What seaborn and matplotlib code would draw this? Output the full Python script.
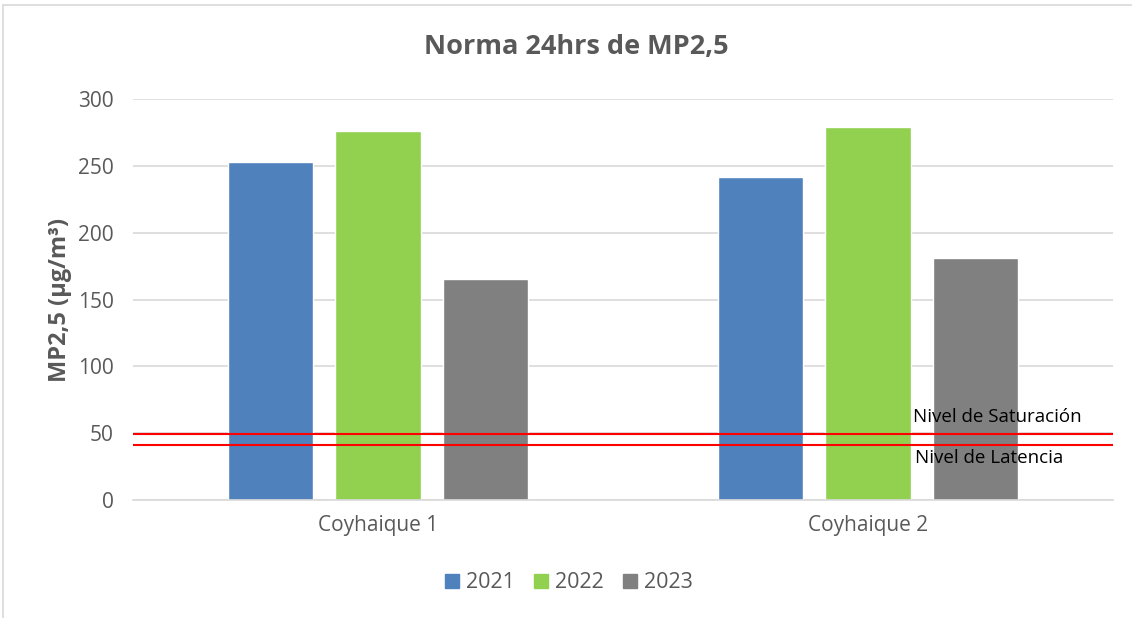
import pandas as pd
import matplotlib.pyplot as plt
import matplotlib.lines as mlines
import seaborn as sns

# data
STATIONS = ["Coyhaique 1", "Coyhaique 2"]
YEARS = ["2021", "2022", "2023"]
VALUES_2021 = [253, 242]
VALUES_2022 = [276, 279]
VALUES_2023 = [165, 181]
LEVEL_NAMES = ["Nivel de Saturación", "Nivel de Latencia"]
LEVEL_VALUES = [49.5, 41]
Y_TICKS = [0, 50, 100, 150, 200, 250, 300]

COLORS = {"2021": "#4F81BD", "2022": "#92D050", "2023": "#808080"}
TEXT_GRAY = "#595959"
GRID_GRAY = "#D9D9D9"

sns.set_theme(style="white")
plt.rcParams["font.family"] = ["Open Sans", "DejaVu Sans"]

rows = []
for year, vals in zip(YEARS, [VALUES_2021, VALUES_2022, VALUES_2023]):
    for st, v in zip(STATIONS, vals):
        rows.append({"station": st, "year": year, "value": v})
df = pd.DataFrame(rows)

fig = plt.figure(figsize=(11.32, 6.18), dpi=100)
ax = fig.add_axes([133 / 1132, 1 - 500 / 618, 980 / 1132, 401 / 618])

sns.barplot(data=df, x="station", y="value", hue="year", palette=COLORS,
            width=0.66, gap=0.21, saturation=1, ax=ax, legend=False,
            err_kws={"linewidth": 0})

ax.set_xlim(-0.5, 1.5)
ax.set_ylim(0, 300)
ax.set_yticks(Y_TICKS)
ax.yaxis.grid(True, color=GRID_GRAY, linewidth=1.2)
ax.set_axisbelow(True)
for side in ["top", "right", "left"]:
    ax.spines[side].set_visible(False)
ax.spines["bottom"].set_color(GRID_GRAY)
ax.spines["bottom"].set_linewidth(1.2)
ax.tick_params(axis="both", length=0, labelsize=15, labelcolor=TEXT_GRAY)
ax.tick_params(axis="y", pad=14)
ax.tick_params(axis="x", pad=11)
ax.set_xlabel("")
ax.set_ylabel("MP2,5 (µg/m³)", fontsize=17, fontweight="bold",
              color=TEXT_GRAY, labelpad=4)

# threshold lines
for lvl in LEVEL_VALUES:
    ax.axhline(lvl, color="#FF0000", linewidth=1.5, zorder=3)
fig.text(913 / 1132, 1 - 417 / 618, LEVEL_NAMES[0], fontsize=13.5,
         color="black", va="center", ha="left")
fig.text(915 / 1132, 1 - 458 / 618, LEVEL_NAMES[1], fontsize=13.5,
         color="black", va="center", ha="left")

fig.suptitle("Norma 24hrs de MP2,5", x=576 / 1132, y=1 - 47 / 618, va="center",
             fontsize=19.5, fontweight="bold", color=TEXT_GRAY)

handles = [mlines.Line2D([], [], marker="s", linestyle="", markersize=10,
                         color=COLORS[y]) for y in YEARS]
fig.legend(handles, YEARS, loc="center", bbox_to_anchor=(0.5, 1 - 583 / 618),
           ncol=3, frameon=False, fontsize=15.5, labelcolor=TEXT_GRAY,
           handletextpad=0.05, columnspacing=0.6, handlelength=1.2)

# light chart frame
fig.add_artist(mlines.Line2D([3 / 1132, 3 / 1132], [0, 1 - 5 / 618],
                             color=GRID_GRAY, linewidth=1.2))
fig.add_artist(mlines.Line2D([3 / 1132, 1], [1 - 5 / 618, 1 - 5 / 618],
                             color=GRID_GRAY, linewidth=1.2))

fig.savefig("out.png", dpi=100)
